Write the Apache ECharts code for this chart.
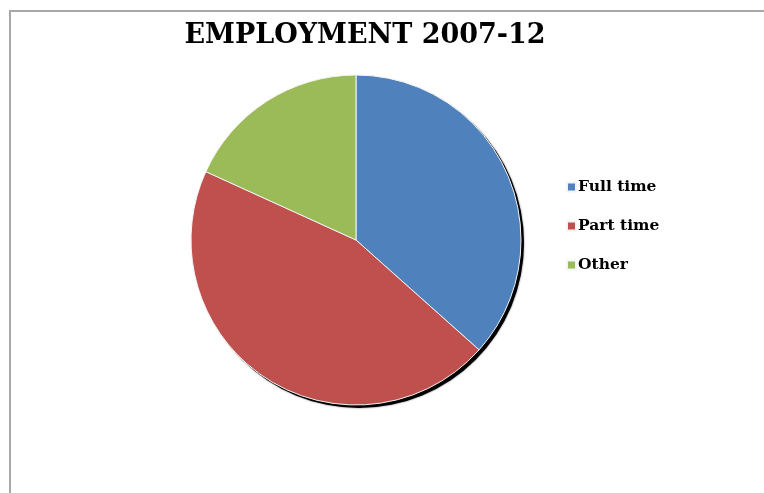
<!DOCTYPE html>
<html>
<head>
<meta charset="utf-8">
<script src="https://cdn.jsdelivr.net/npm/echarts@6/dist/echarts.min.js"></script>
<style>
  html, body { margin: 0; padding: 0; background: #fff; }
  #chart { width: 764px; height: 493px; }
</style>
</head>
<body>
<div id="chart"></div>
<script>
// Employment mix, 2007-12 (share of total, %)
const categories = ['Full time', 'Part time', 'Other'];
const shares = [36.6, 45.2, 18.2];
const sliceColors = ['#4f81bd', '#c0504d', '#9bbb59'];

const chart = echarts.init(document.getElementById('chart'));

const pieCenter = [356, 240];
const pieRadius = 165;

chart.setOption({
  backgroundColor: '#ffffff',
  animation: false,
  title: {
    text: 'EMPLOYMENT 2007-12',
    left: 360,
    textAlign: 'center',
    top: 17,
    textStyle: {
      fontFamily: 'DejaVu Serif',
      fontWeight: 'bold',
      fontSize: 27,
      color: '#000'
    }
  },
  legend: {
    orient: 'vertical',
    left: 561,
    top: 173,
    itemWidth: 9,
    itemHeight: 9,
    itemGap: 21,
    icon: 'rect',
    data: categories,
    textStyle: {
      fontFamily: 'DejaVu Serif',
      fontWeight: 'bold',
      fontSize: 15.5,
      lineHeight: 18,
      color: '#000',
      padding: [0, 0, 0, -3]
    }
  },
  graphic: [{
    type: 'polyline',
    shape: { points: [[10, 493], [10, 11], [764, 11]] },
    style: { stroke: '#a8a8a8', lineWidth: 2, fill: null },
    z: 0
  }],
  series: [
    {
      // drop shadow disc behind the pie
      type: 'pie',
      silent: true,
      center: [pieCenter[0] + 3, pieCenter[1] + 3],
      radius: pieRadius,
      label: { show: false },
      labelLine: { show: false },
      itemStyle: { color: '#000', shadowBlur: 2, shadowColor: 'rgba(0,0,0,0.6)' },
      data: [{ value: 1, name: '' }],
      z: 1
    },
    {
      type: 'pie',
      center: pieCenter,
      radius: pieRadius,
      startAngle: 90,
      clockwise: true,
      label: { show: false },
      labelLine: { show: false },
      itemStyle: { borderColor: '#f4f4f4', borderWidth: 1 },
      data: categories.map((name, i) => ({
        name: name,
        value: shares[i],
        itemStyle: { color: sliceColors[i] }
      })),
      z: 2
    }
  ]
});
</script>
</body>
</html>
